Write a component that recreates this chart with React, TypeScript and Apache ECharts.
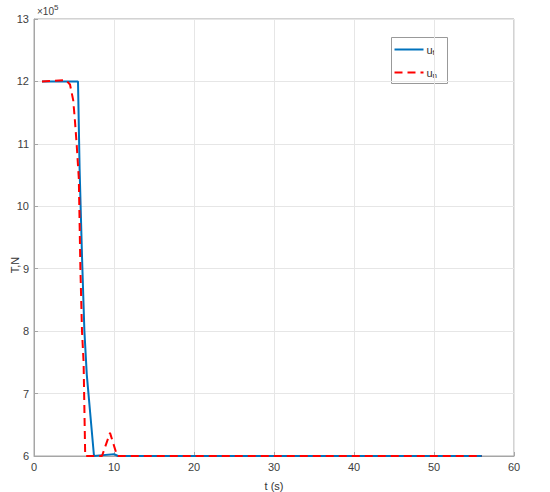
import React, { useEffect, useRef } from "react";
import * as echarts from "echarts";

const xTicks = [0, 10, 20, 30, 40, 50, 60];
const yTicks = [6, 7, 8, 9, 10, 11, 12, 13];

const tF = [1, 5.5, 5.7, 6.0, 6.3, 6.6, 7.5, 10, 10.5, 56];
const uF = [12, 12, 10.6, 9.2, 8.0, 7.3, 6, 6.03, 6, 6];

const tN = [1, 4, 4.5, 4.9, 5.1, 5.33, 5.6, 5.8, 6.0, 6.2, 6.4, 8.5, 9.5, 10.4, 56];
const uN = [12, 12.02, 11.95, 11.7, 11.4, 11, 10.45, 9, 8, 7.5, 6, 6, 6.37, 6, 6];

const FONT = "Liberation Sans";
const BLUE = "#0072BD";
const RED = "#ff0000";

export default function App() {
  const ref = useRef<HTMLDivElement>(null);
  useEffect(() => {
    if (!ref.current) return;
    const chart = echarts.init(ref.current, null, { renderer: "svg" });
    const dataF = tF.map((t, i) => [t, uF[i]]);
    const dataN = tN.map((t, i) => [t, uN[i]]);
    chart.setOption({
      animation: false,
      backgroundColor: "#ffffff",
      textStyle: { fontFamily: FONT },
      grid: {
        left: 34,
        right: 36,
        top: 19,
        bottom: 36,
        containLabel: false,
        outerBoundsMode: "none",
        show: true,
        borderColor: "#a6a6a6",
        borderWidth: 1,
      },
      xAxis: {
        type: "value",
        min: 0,
        max: 60,
        interval: 10,
        name: "t (s)",
        nameLocation: "middle",
        nameGap: 24,
        nameTextStyle: { fontFamily: FONT, fontSize: 11, color: "#333333" },
        axisLine: { show: true, lineStyle: { color: "#a6a6a6" } },
        axisTick: { show: true, inside: true, length: 4, lineStyle: { color: "#a6a6a6" } },
        axisLabel: {
          fontFamily: FONT,
          fontSize: 11,
          color: "#404040",
          margin: 5,
          customValues: xTicks,
        },
        splitLine: { show: true, lineStyle: { color: "#e6e6e6" } },
      },
      yAxis: {
        type: "value",
        min: 6,
        max: 13,
        interval: 1,
        axisLine: { show: true, lineStyle: { color: "#a6a6a6" } },
        axisTick: { show: true, inside: true, length: 4, lineStyle: { color: "#a6a6a6" } },
        axisLabel: {
          fontFamily: FONT,
          fontSize: 11,
          color: "#404040",
          margin: 5,
          customValues: yTicks,
        },
        splitLine: { show: true, lineStyle: { color: "#e6e6e6" } },
      },
      graphic: [
        {
          type: "text",
          x: 15,
          y: 265,
          rotation: Math.PI / 2,
          style: {
            text: "T,N",
            fontFamily: FONT,
            fontSize: 11,
            fill: "#333333",
            align: "center",
            verticalAlign: "middle",
          },
        },
        {
          type: "text",
          left: 37,
          top: 3,
          style: {
            text: "{a|×10}{b|5}",
            fontFamily: FONT,
            rich: {
              a: { fontSize: 10, fontFamily: FONT, fill: "#404040", padding: [4, 0, 0, 0] },
              b: { fontSize: 8, fontFamily: FONT, fill: "#404040", padding: [0, 0, 4, 0] },
            },
          },
        },
        {
          type: "group",
          left: 391,
          top: 37,
          children: [
            {
              type: "rect",
              shape: { x: 0, y: 0, width: 56, height: 46 },
              style: { fill: "#ffffff", stroke: "#999999", lineWidth: 1 },
            },
            {
              type: "line",
              shape: { x1: 3, y1: 12, x2: 32, y2: 12 },
              style: { stroke: BLUE, lineWidth: 2 },
            },
            {
              type: "line",
              shape: { x1: 3, y1: 35, x2: 32, y2: 35 },
              style: { stroke: RED, lineWidth: 2, lineDash: [8, 5] },
            },
            {
              type: "text",
              x: 35,
              y: 5,
              style: {
                text: "{a|u}{s|f}",
                fontFamily: FONT,
                rich: {
                  a: { fontSize: 11, fontFamily: FONT, fill: "#333333" },
                  s: { fontSize: 8, fontFamily: FONT, fill: "#333333", padding: [6, 0, 0, 0] },
                },
              },
            },
            {
              type: "text",
              x: 35,
              y: 28,
              style: {
                text: "{a|u}{s|n}",
                fontFamily: FONT,
                rich: {
                  a: { fontSize: 11, fontFamily: FONT, fill: "#333333" },
                  s: { fontSize: 8, fontFamily: FONT, fill: "#333333", padding: [6, 0, 0, 0] },
                },
              },
            },
          ],
        },
      ],
      series: [
        {
          name: "u_f",
          type: "line",
          data: dataF,
          symbol: "none",
          lineStyle: { color: BLUE, width: 2 },
          itemStyle: { color: BLUE },
          z: 2,
        },
        {
          name: "u_n",
          type: "line",
          data: dataN,
          symbol: "none",
          lineStyle: { color: RED, width: 2, type: [8, 5] },
          itemStyle: { color: RED },
          z: 3,
        },
      ],
    });
    return () => chart.dispose();
  }, []);
  return (
    <div
      ref={ref}
      style={{ position: "fixed", left: 0, top: 0, width: 550, height: 492 }}
    />
  );
}
